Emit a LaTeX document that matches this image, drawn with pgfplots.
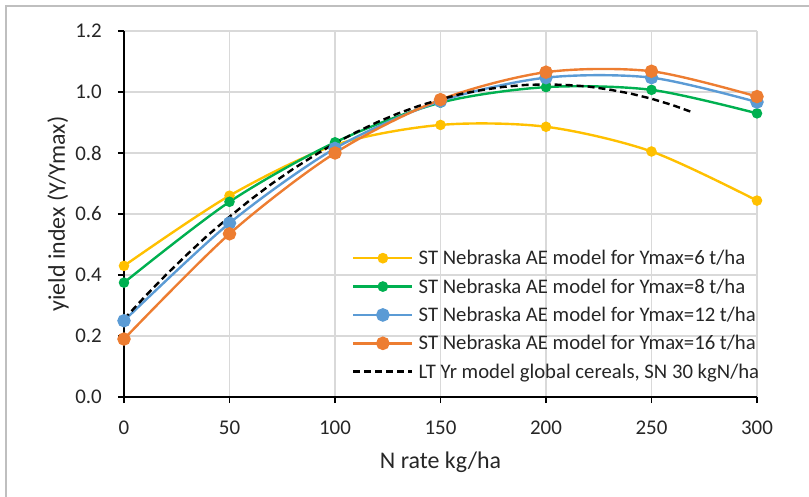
\documentclass[border=0pt]{standalone}
\usepackage{pgfplots}
\pgfplotsset{compat=1.18}
\usepackage{fontspec}
\setmainfont{Carlito}

\definecolor{cYel}{HTML}{FFC000}
\definecolor{cGrn}{HTML}{00B050}
\definecolor{cBlu}{HTML}{5B9BD5}
\definecolor{cOrg}{HTML}{ED7D31}
\definecolor{cGrid}{HTML}{D9D9D9}
\definecolor{cText}{HTML}{262626}
\definecolor{cFrame}{HTML}{BFBFBF}

\begin{document}
\begin{tikzpicture}
\useasboundingbox (-124bp,-100bp) rectangle (685bp,397bp);
% chart-area frame (top and left edges)
\draw[cFrame, line width=1.6bp] (-118bp,-100bp) -- (-118bp,391bp) -- (685bp,391bp);
\begin{axis}[
  scale only axis,
  width=633bp, height=366bp,
  xmin=0, xmax=300, ymin=0, ymax=1.2,
  xtick={0,50,...,300},
  ytick={0,0.2,...,1.2},
  /pgf/number format/assume math mode=true,
  tick label style={font=\fontsize{21}{24}\selectfont, text=cText, inner sep=0pt},
  xticklabel style={anchor=center, yshift=-25bp},
  yticklabel style={anchor=east, xshift=-16bp, /pgf/number format/.cd, fixed, fixed zerofill, precision=1},
  grid=major,
  major grid style={cGrid, line width=1.3bp},
  axis x line*=bottom, axis y line*=left,
  axis line style={black, line width=1.4bp, -},
  tick align=outside,
  major tick length=6bp,
  tick style={black, line width=1.3bp},
  xlabel={N rate kg/ha},
  ylabel={yield index (Y/Ymax)},
  label style={font=\fontsize{24}{28}\selectfont, text=cText},
  xlabel style={at={(axis description cs:0.5,-0.178)}, anchor=center},
  ylabel style={at={(axis description cs:-0.104,0.5)}, anchor=center},
  clip=false,
  legend cell align=left,
  legend style={draw=none, fill=none, font=\fontsize{20.8}{23}\selectfont,
    text=cText, at={(axis description cs:0.36,0.407)}, anchor=north west,
    row sep=8.5bp, inner sep=0pt,
    nodes={inner xsep=5bp, inner ysep=2bp}},
  legend image code/.code={%
    \draw[line width=2.6bp, mark repeat=2, mark phase=2] plot coordinates {(0bp,0bp) (29.5bp,0bp) (59bp,0bp)};},
]
% short-term Nebraska agronomic-efficiency model, Ymax = 6 t/ha
\addplot[cYel, line width=2.4bp, smooth, mark=*, mark size=4bp, mark options={solid}]
  coordinates {(0,0.43) (50,0.66) (100,0.826) (150,0.892) (200,0.886) (250,0.805) (300,0.644)};
\addlegendentry{ST Nebraska AE model for Ymax=6 t/ha}
% Ymax = 8 t/ha
\addplot[cGrn, line width=2.4bp, smooth, mark=*, mark size=4bp]
  coordinates {(0,0.375) (50,0.64) (100,0.835) (150,0.965) (200,1.016) (250,1.007) (300,0.93)};
\addlegendentry{ST Nebraska AE model for Ymax=8 t/ha}
% Ymax = 12 t/ha
\addplot[cBlu, line width=2.4bp, smooth, mark=*, mark size=5.5bp]
  coordinates {(0,0.25) (50,0.57) (100,0.815) (150,0.97) (200,1.047) (250,1.047) (300,0.967)};
\addlegendentry{ST Nebraska AE model for Ymax=12 t/ha}
% Ymax = 16 t/ha
\addplot[cOrg, line width=2.4bp, smooth, mark=*, mark size=5.5bp]
  coordinates {(0,0.19) (50,0.535) (100,0.80) (150,0.975) (200,1.065) (250,1.068) (300,0.985)};
\addlegendentry{ST Nebraska AE model for Ymax=16 t/ha}
% long-term yield-response model, global cereals, soil N supply 30 kgN/ha
\addplot[black, line width=2.4bp, dashed, dash pattern=on 7bp off 4bp]
  coordinates {(0,0.255) (10,0.330) (20,0.401) (30,0.468) (40,0.532) (50,0.591)
    (60,0.647) (70,0.699) (80,0.747) (90,0.791) (100,0.832) (110,0.868) (120,0.901)
    (130,0.930) (140,0.955) (150,0.976) (160,0.994) (170,1.007) (180,1.017)
    (190,1.023) (200,1.025) (210,1.023) (220,1.018) (230,1.008) (240,0.995)
    (250,0.978) (260,0.957) (270,0.932)};
\addlegendentry{LT Yr model global cereals, SN 30 kgN/ha}
\end{axis}
\end{tikzpicture}
\end{document}
